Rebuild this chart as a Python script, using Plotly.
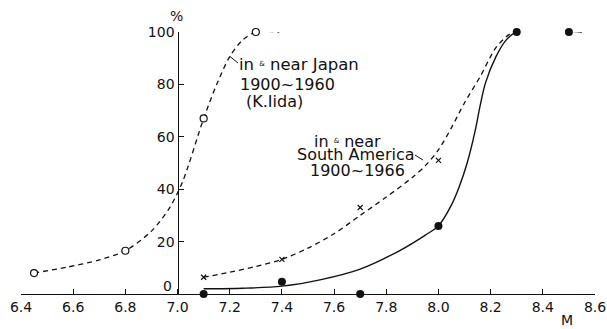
import plotly.graph_objects as go

# ---- data ----
x_tick_vals = [6.4, 6.6, 6.8, 7.0, 7.2, 7.4, 7.6, 7.8, 8.0, 8.2, 8.4, 8.6]
x_tick_text = ["6.4", "6.6", "6.8", "7.0", "7.2", "7.4", "7.6", "7.8", "8.0", "8.2", "8.4", "8.6"]
y_tick_vals = [20, 40, 60, 80, 100]
y_tick_text = ["20", "40", "60", "80", "100"]

# Japan 1900~1960 (K. Iida): open circles + dashed curve
japan_m = [6.45, 6.8, 7.1, 7.3]
japan_pct = [8, 16.5, 67, 100]
japan_curve_m = [6.45, 6.575, 6.7, 6.8, 6.9, 6.97, 7.02, 7.1, 7.15, 7.2, 7.25, 7.3, 7.39]
japan_curve_pct = [8, 10.2, 13, 16.5, 24, 33, 43, 67, 80, 90.6, 97, 100, 100]

# South America 1900~1966: crosses + dashed curve
sa_m = [7.1, 7.4, 7.7, 8.0, 8.3]
sa_pct = [6.4, 13.2, 33, 51, 100]
sa_curve_m = [7.1, 7.2, 7.3, 7.4, 7.5, 7.6, 7.7, 7.8, 7.9, 7.95, 8.0, 8.05, 8.1, 8.16, 8.22, 8.27, 8.3]
sa_curve_pct = [6.4, 8.3, 10.5, 13.2, 17.5, 23, 30, 37, 44.5, 49, 55, 63.5, 73, 83, 94, 99, 100]

# filled dots + solid curve
dot_m = [7.1, 7.4, 7.7, 8.0, 8.3, 8.5]
dot_pct = [0, 4.7, 0, 26, 100, 100]
solid_curve_m = [7.1, 7.25, 7.4, 7.55, 7.7, 7.85, 7.95, 8.0, 8.05, 8.08, 8.11, 8.14, 8.16, 8.18, 8.22, 8.26, 8.3, 8.55]
solid_curve_pct = [2, 2.2, 3, 5.5, 9.5, 16.5, 22.5, 26, 34, 41, 50, 62, 72, 80.5, 90.5, 97, 100, 100]

FONT = "DejaVu Sans"
INK = "#111111"

fig = go.Figure()

fig.add_trace(go.Scatter(x=japan_curve_m, y=japan_curve_pct, mode="lines",
                         line=dict(color=INK, width=1.3, dash="5px,4px", shape="spline", smoothing=0.8),
                         cliponaxis=False, hoverinfo="skip", showlegend=False))
fig.add_trace(go.Scatter(x=japan_m, y=japan_pct, mode="markers",
                         marker=dict(symbol="circle", size=7, color="white", line=dict(color=INK, width=1.2)),
                         cliponaxis=False, showlegend=False))

fig.add_trace(go.Scatter(x=sa_curve_m, y=sa_curve_pct, mode="lines",
                         line=dict(color=INK, width=1.3, dash="5px,4px", shape="spline", smoothing=0.8),
                         cliponaxis=False, hoverinfo="skip", showlegend=False))
fig.add_trace(go.Scatter(x=sa_m, y=sa_pct, mode="markers",
                         marker=dict(symbol="x-thin", size=5, color=INK, line=dict(color=INK, width=1.2)),
                         cliponaxis=False, showlegend=False))

fig.add_trace(go.Scatter(x=solid_curve_m, y=solid_curve_pct, mode="lines",
                         line=dict(color=INK, width=1.4, shape="spline", smoothing=0.9),
                         cliponaxis=False, hoverinfo="skip", showlegend=False))
fig.add_trace(go.Scatter(x=dot_m, y=dot_pct, mode="markers",
                         marker=dict(symbol="circle", size=8, color=INK),
                         cliponaxis=False, showlegend=False))

tick_font = dict(family=FONT, size=14, color=INK)

ML, MR, MT, MB = 21, 12, 32, 35
W, H = 607, 329
PW, PH = W - ML - MR, H - MT - MB

fig.update_layout(
    width=W, height=H,
    margin=dict(l=ML, r=MR, t=MT, b=MB),
    paper_bgcolor="white", plot_bgcolor="white",
    xaxis=dict(range=[6.4, 8.6], tickvals=x_tick_vals, ticktext=x_tick_text,
               showgrid=False, zeroline=False, showline=True, linecolor=INK, linewidth=1.3,
               ticks="inside", ticklen=5, tickwidth=1.2, tickcolor=INK, tickfont=tick_font,
               anchor="y", automargin=False),
    yaxis=dict(range=[0, 100], tickvals=y_tick_vals, ticktext=y_tick_text,
               showgrid=False, zeroline=False, showline=True, linecolor=INK, linewidth=1.3,
               ticks="inside", ticklen=5, tickwidth=1.2, tickcolor=INK, tickfont=tick_font,
               anchor="free", position=(7.0 - 6.4) / (8.6 - 6.4), automargin=False),
)


def label(text, xp, yp, xanchor="left", size=16):
    # place text by its left edge / vertical centre in page pixels
    fig.add_annotation(text=text, x=(xp - 2.5 - ML) / PW, y=(H - MB - yp) / PH,
                       xref="paper", yref="paper", showarrow=False,
                       xanchor=xanchor, yanchor="middle",
                       font=dict(family=FONT, size=size, color=INK))


amp = "<span style='font-size:10px'><sup>&amp;</sup></span>"
label("in " + amp + " near Japan", 239, 64, size=16.5)
label("1900~1960", 240, 85)
label("(K.Iida)", 246, 101)
label("in " + amp + " near", 314, 141)
label("South America", 297, 154)
label("1900~1966", 310, 170)

label("0", 176, 286, xanchor="right", size=14)
label("%", 178.5, 16, xanchor="center", size=14)
label("M", 569.5, 320, xanchor="center", size=14)

# leader lines from labels to curves
def seg(x0, y0, x1, y1):
    fig.add_shape(type="line", xref="paper", yref="paper",
                  x0=(x0 - ML) / PW, y0=(H - MB - y0) / PH,
                  x1=(x1 - ML) / PW, y1=(H - MB - y1) / PH,
                  line=dict(color=INK, width=1))

seg(230, 56.5, 238, 63)
seg(415, 155, 423, 160)

fig.write_html("out.html", config={"displayModeBar": False},
               post_script="document.body.style.margin='0px';")
